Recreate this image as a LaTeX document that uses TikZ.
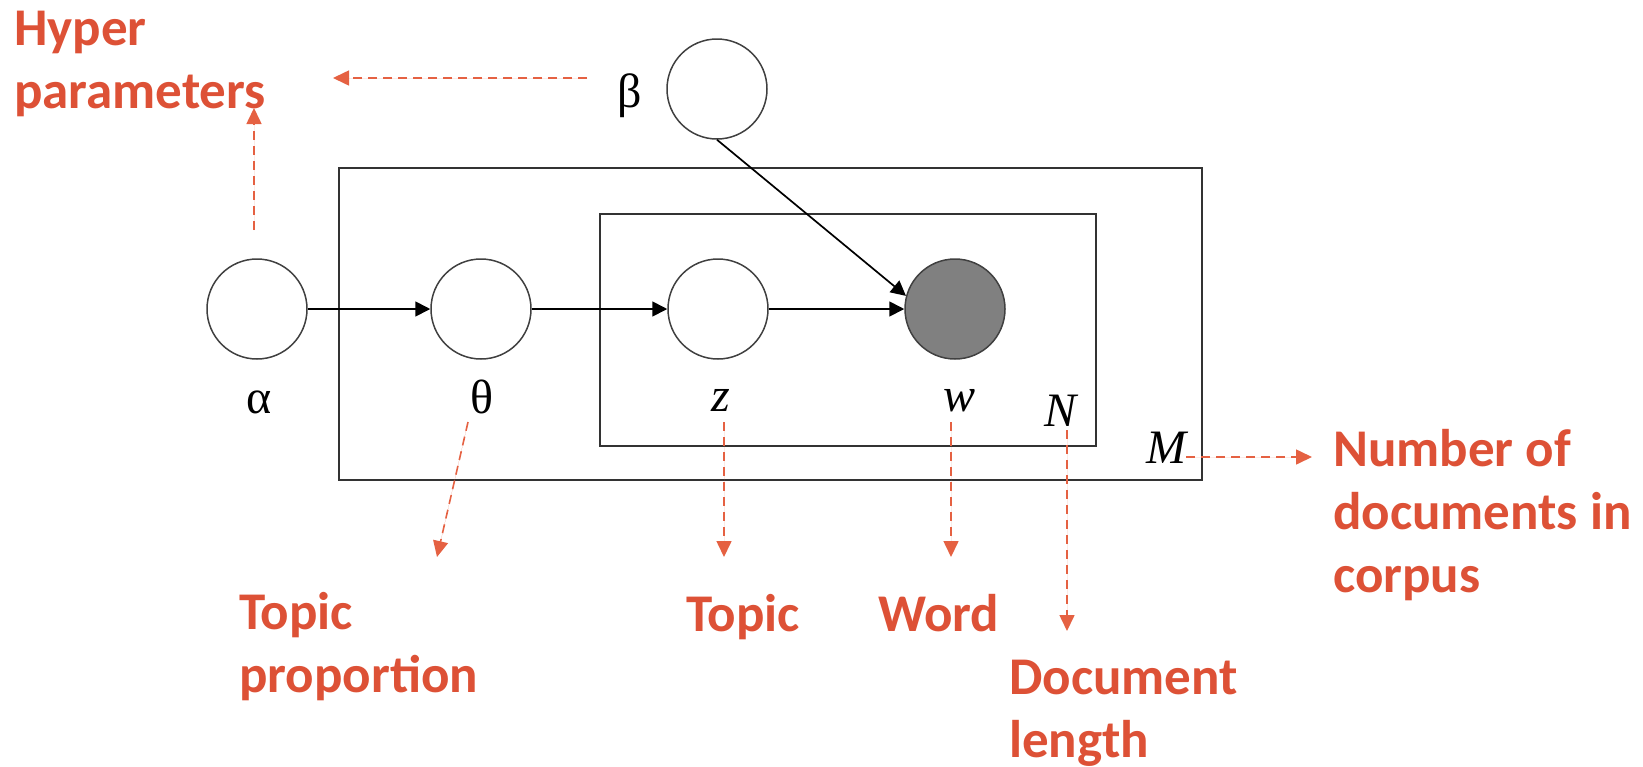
\documentclass[tikz,border=0pt]{standalone}
\usepackage{fontspec}
\setmainfont{Carlito}
\newfontfamily\lblfont{Liberation Serif}
\usetikzlibrary{arrows.meta}
\definecolor{note}{RGB}{221,81,54}
\definecolor{notearrow}{RGB}{229,97,66}
\begin{document}
\begin{tikzpicture}[x=1pt,y=-1pt,
  var/.style={circle, draw=black!75, line width=1.5pt, minimum size=100pt, inner sep=0pt, fill=white},
  obs/.style={var, fill=black!50},
  plate/.style={draw=black!80, line width=2pt},
  edge/.style={line width=1.7pt, -{Triangle[length=15pt,width=15pt]}},
  sym/.style={font=\fontsize{48}{48}\lblfont, inner sep=0pt, anchor=base},
  note/.style={font=\fontsize{53}{63}\selectfont\bfseries, text=note, align=left, inner sep=0pt, anchor=base west},
  callout/.style={draw=notearrow, line width=1.6pt, dash pattern=on 9pt off 6pt, -{Triangle[length=16pt,width=15pt]}, fill=notearrow}
]
\useasboundingbox (0,0) rectangle (1643,766);

% plates: documents (outer) and words (inner)
\draw[plate] (339,168) rectangle (1202,480);
\draw[plate] (599.5,214) rectangle (1096,446);

% random variables
\node[var] (a) at (257,309) {};
\node[var] (t) at (481,309) {};
\node[var] (z) at (718,309) {};
\node[obs] (w) at (955,309) {};
\node[var] (b) at (717,89) {};

% variable symbols
\node[sym] (al) at (259,413) {α};
\node[sym] (tl) at (482,413) {θ};
\node[sym] (zl) at (721,411) {\itshape z};
\node[sym] (wl) at (959,411) {\itshape w};
\node[sym] (bl) at (630,107) {β};
\node[sym] (nl) at (1060,426) {\itshape N};
\node[sym] (ml) at (1166,463) {\itshape M};

% dependencies
\draw[edge] (a) -- (t);
\draw[edge] (t) -- (z);
\draw[edge] (z) -- (w);
\draw[edge] (b.south) -- (w.165);

% annotations (anchored at the baseline of their last line)
\node[note] (hyp) at (14,108) {Hyper\\parameters};
\node[note] (tp) at (239,692) {Topic\\proportion};
\node[note] (tpc) at (686,631) {Topic};
\node[note] (wrd) at (878,631) {Word};
\node[note] (dl) at (1009,757) {Document\\length};
\node[note] (nd) at (1333,592) {Number of\\documents in\\corpus};

% callout arrow ends
\coordinate (c1s) at (587,78);   \coordinate (c1e) at (333,78);
\coordinate (c2s) at (254,230);  \coordinate (c2e) at (254,108);
\coordinate (c3s) at (468,422);  \coordinate (c3e) at (437,557);
\coordinate (c4s) at (724,422);  \coordinate (c4e) at (724,557);
\coordinate (c5s) at (951,422);  \coordinate (c5e) at (951,557);
\coordinate (c6s) at (1067,430); \coordinate (c6e) at (1067,631);
\coordinate (c7s) at (1186,457); \coordinate (c7e) at (1312,457);

\draw[callout] (c1s) -- (c1e);
\draw[callout] (c2s) -- (c2e);
\draw[callout] (c3s) -- (c3e);
\draw[callout] (c4s) -- (c4e);
\draw[callout] (c5s) -- (c5e);
\draw[callout] (c6s) -- (c6e);
\draw[callout] (c7s) -- (c7e);
\end{tikzpicture}
\end{document}
